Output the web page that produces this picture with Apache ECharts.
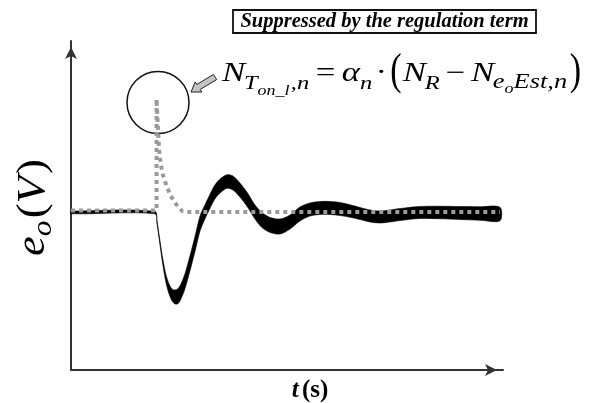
<!DOCTYPE html>
<html>
<head>
<meta charset="utf-8">
<script src="https://cdn.jsdelivr.net/npm/echarts/dist/echarts.min.js"></script>
<style>
  html, body { margin: 0; padding: 0; background: #fff; }
  #chart { width: 597px; height: 403px; }
</style>
</head>
<body>
<div id="chart"></div>
<script>
// Output voltage e_o(t): centre of the ripple band and its peak-to-peak ripple width
const bandTime = [0, 1.94, 1.99, 2.06, 2.13, 2.20, 2.27, 2.34, 2.41, 2.48,
  2.55, 2.64, 2.75, 2.87, 2.99, 3.10, 3.22, 3.33, 3.45, 3.61,
  3.75, 3.91, 4.07, 4.26, 4.42, 4.61, 4.84, 5.07, 5.30, 5.53,
  5.76, 6.00, 6.23, 6.46, 6.69, 6.92, 7.15, 7.38, 7.62, 8.08,
  8.54, 9.00, 9.47, 9.93];
const bandCenter = [-0.005, -0.005, -0.10, -0.31, -0.51, -0.67, -0.77, -0.83, -0.85, -0.84,
  -0.79, -0.69, -0.52, -0.32, -0.11, 0.00, 0.11, 0.20, 0.26, 0.305,
  0.29, 0.22, 0.13, 0.00, -0.08, -0.13, -0.145, -0.10, -0.02, 0.025,
  0.04, 0.04, 0.03, 0.01, -0.015, -0.04, -0.05, -0.04, -0.025, -0.005,
  -0.005, -0.01, -0.015, -0.02];
const bandWidth = [0.025, 0.025, 0.03, 0.04, 0.06, 0.08, 0.10, 0.12, 0.14, 0.15,
  0.15, 0.15, 0.15, 0.15, 0.15, 0.14, 0.14, 0.14, 0.14, 0.135,
  0.14, 0.14, 0.14, 0.14, 0.15, 0.15, 0.15, 0.14, 0.14, 0.13,
  0.13, 0.13, 0.13, 0.125, 0.12, 0.12, 0.12, 0.12, 0.12, 0.12,
  0.125, 0.13, 0.135, 0.135];

// On-time correction term N_Ton_l,n (dotted): a spike at the load step, then decaying
const termTime  = [0, 1.98, 1.98, 2.00, 2.04, 2.08, 2.13, 2.22, 2.31, 2.41, 2.57, 2.75, 9.93];
const termValue = [0.015, 0.015, 1.13, 0.95, 0.62, 0.47, 0.37, 0.25, 0.16, 0.09, 0.01, 0, 0];

const chart = echarts.init(document.getElementById('chart'), null, { renderer: 'canvas' });

const SERIF = '"Liberation Serif", "Times New Roman", serif';
const measureCtx = document.createElement('canvas').getContext('2d');

function fontOf(size, italic, bold) {
  return (italic ? 'italic ' : 'normal ') + (bold ? 'bold ' : 'normal ') + size + 'px ' + SERIF;
}

// Lays a row of text pieces left to right; each piece sits on baseline + drop.
// 'middle' alignment puts the em-box centre about 0.3375 em above the baseline.
function textRow(pieces) {
  let x = 0;
  const children = [];
  pieces.forEach(function (p) {
    x += p.before || 0;
    const font = fontOf(p.size, p.italic, p.bold);
    measureCtx.font = font;
    const sx = p.sx || 1;
    const w = measureCtx.measureText(p.text).width * sx;
    children.push({
      type: 'text', x: x, y: (p.drop || 0) - 0.3375 * p.size, scaleX: sx, silent: true,
      style: { text: p.text, font: font, fill: '#000', align: 'left', verticalAlign: 'middle' }
    });
    x += w + (p.after || 0);
  });
  return { children: children, width: x };
}

// N_{T_{on_l},n} = α_n · (N_R − N_{e_o Est,n})
const M = 27, S = 19, S2 = 20.5, SS = 14, P = 44;
const formulaRow = textRow([
  { text: 'N', size: M, italic: true },
  { text: 'T', size: S, italic: true, drop: 7, before: -1 },
  { text: 'on_l', size: SS, italic: true, drop: 13 },
  { text: ',', size: S, italic: true, drop: 7, before: 1 },
  { text: 'n', size: S, italic: true, drop: 7, after: 5 },
  { text: '=', size: M, after: 5 },
  { text: '\u03B1', size: M, italic: true },
  { text: 'n', size: S, italic: true, drop: 7, after: 2.5 },
  { text: '\u00B7', size: M, after: 2.5 },
  { text: '(', size: P, drop: 4, sx: 0.6, after: 1 },
  { text: 'N', size: M, italic: true },
  { text: 'R', size: S, italic: true, drop: 7, before: -1, after: 4.5 },
  { text: '\u2212', size: M, after: 4.5 },
  { text: 'N', size: M, italic: true },
  { text: 'e', size: S2, italic: true, drop: 7, before: -1 },
  { text: 'o', size: SS, italic: true, drop: 11 },
  { text: 'Est,n', size: S2, italic: true, drop: 7, after: 2 },
  { text: ')', size: P, drop: 4, sx: 0.6 }
]);
const formula = {
  type: 'group', x: 222, y: 83, scaleX: 359 / formulaRow.width, silent: true,
  children: formulaRow.children
};

// Y-axis title e_o(V), written bottom-to-top
const yRow = textRow([
  { text: 'e', size: 40, italic: true },
  { text: 'o', size: 28, italic: true, drop: 6, after: 2 },
  { text: '(', size: 40 },
  { text: 'V', size: 40, italic: true, after: 2 },
  { text: ')', size: 40 }
]);
const yTitle = {
  type: 'group', x: 47, y: 256, rotation: Math.PI / 2, scaleX: 97 / yRow.width, silent: true,
  children: yRow.children
};

const option = {
  animation: false,
  backgroundColor: '#fff',
  grid: { left: 71, top: 41, width: 432, height: 329 },
  xAxis: {
    type: 'value', min: 0, max: 10,
    axisLine: {
      show: true, onZero: false,
      symbol: ['none', 'arrow'], symbolSize: [9, 12], symbolOffset: [0, -6],
      lineStyle: { color: '#333', width: 2 }
    },
    axisTick: { show: false }, axisLabel: { show: false }, splitLine: { show: false }
  },
  yAxis: {
    type: 'value', min: -1.58, max: 1.71,
    axisLine: {
      show: true, onZero: false,
      symbol: ['none', 'arrow'], symbolSize: [9, 12], symbolOffset: [0, -6],
      lineStyle: { color: '#333', width: 2 }
    },
    axisTick: { show: false }, axisLabel: { show: false }, splitLine: { show: false }
  },
  series: [
    {
      name: 'e_o',
      type: 'custom',
      z: 2,
      silent: true,
      data: bandTime.map((t, i) => [t, bandCenter[i]]),
      encode: { x: 0, y: 1 },
      renderItem: function (params, api) {
        if (params.dataIndex !== 0) return null;
        const upper = [], lower = [];
        for (let i = 0; i < bandTime.length; i++) {
          upper.push(api.coord([bandTime[i], bandCenter[i] + bandWidth[i] / 2]));
          lower.push(api.coord([bandTime[i], bandCenter[i] - bandWidth[i] / 2]));
        }
        return {
          type: 'polygon',
          shape: { points: upper.concat(lower.reverse()), smooth: 0.3 },
          style: { fill: '#000', stroke: '#000', lineWidth: 0.6 }
        };
      }
    },
    {
      name: 'N_Ton_l',
      type: 'line',
      z: 3,
      silent: true,
      symbol: 'none',
      data: termTime.map((t, i) => [t, termValue[i]]),
      lineStyle: { color: '#9a9a9a', width: 4, type: [4, 4], cap: 'butt' }
    }
  ],
  graphic: [
    // caption box
    {
      type: 'rect', silent: true,
      shape: { x: 233, y: 10, width: 303, height: 23 },
      style: { fill: '#fff', stroke: '#111', lineWidth: 1.8 }
    },
    {
      type: 'text', x: 384.5, y: 22, silent: true,
      style: {
        text: 'Suppressed by the regulation term',
        font: fontOf(20.5, true, true), fill: '#000', align: 'center', verticalAlign: 'middle'
      }
    },
    // circle around the spike
    {
      type: 'circle', silent: true,
      shape: { cx: 158, cy: 102.5, r: 31 },
      style: { fill: 'none', stroke: '#111', lineWidth: 1.5 }
    },
    // pointer from the formula to the circle
    {
      type: 'polygon', silent: true,
      shape: { points: [[216.7, 79.5], [200.2, 89.5], [201.8, 92], [191, 92], [195.2, 82], [196.8, 84.5], [213.3, 74.5]] },
      style: { fill: '#c4c4c4', stroke: '#222', lineWidth: 1 }
    },
    formula,
    yTitle,
    // x-axis title
    {
      type: 'text', x: 310, y: 391, silent: true,
      style: {
        text: '{i|t} {b|(s)}',
        align: 'center', verticalAlign: 'middle',
        rich: {
          i: { font: fontOf(25, true, true), fill: '#000' },
          b: { font: fontOf(25, false, true), fill: '#000' }
        }
      }
    }
  ]
};

chart.setOption(option);
</script>
</body>
</html>
